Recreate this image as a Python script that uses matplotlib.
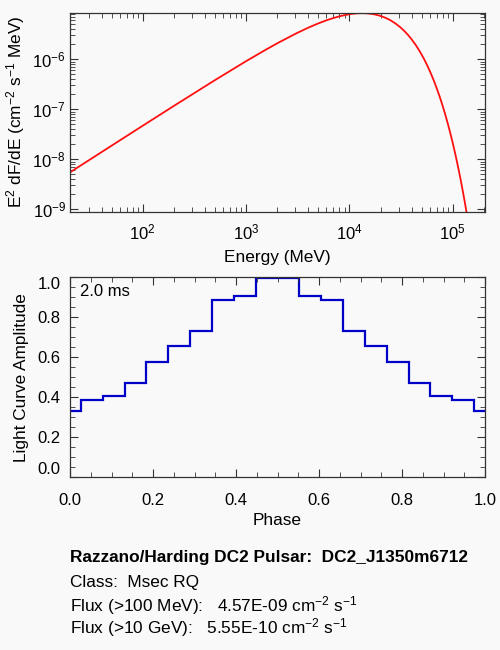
import numpy as np
import matplotlib
matplotlib.use('Agg')
import matplotlib.pyplot as plt
from matplotlib.ticker import MultipleLocator, LogLocator, NullFormatter

plt.rcParams['font.family'] = ['Liberation Sans', 'DejaVu Sans']
plt.rcParams['mathtext.fontset'] = 'custom'
plt.rcParams['mathtext.rm'] = 'Liberation Sans'
plt.rcParams['mathtext.it'] = 'Liberation Sans:italic'
plt.rcParams['mathtext.bf'] = 'Liberation Sans:bold'

# spectrum (MeV, E^2 dF/dE)
energy = [20, 50, 100, 200, 500, 1000, 1500, 2000, 3000, 4000, 5000, 6000,
          7000, 8000, 9000, 10000, 11000, 12000, 13000, 14000, 15000, 17000,
          19000, 21000, 23000, 25000, 28000, 31000, 34000, 37000, 40000, 44000,
          48000, 52000, 56000, 60000, 65000, 70000, 75000, 80000, 85000, 90000,
          95000, 100000, 105000, 110000, 115000, 120000, 125000, 130000,
          135000, 140000]
sed = [5.55e-9, 1.873e-8, 4.684e-8, 1.166e-7, 3.827e-7, 9.154e-7, 1.493e-6,
       2.082e-6, 3.231e-6, 4.285e-6, 5.218e-6, 6.018e-6, 6.683e-6, 7.221e-6,
       7.642e-6, 7.954e-6, 8.169e-6, 8.299e-6, 8.352e-6, 8.341e-6, 8.272e-6,
       8.001e-6, 7.595e-6, 7.104e-6, 6.565e-6, 6.006e-6, 5.172e-6, 4.388e-6,
       3.675e-6, 3.046e-6, 2.503e-6, 1.905e-6, 1.433e-6, 1.069e-6, 7.906e-7,
       5.810e-7, 3.919e-7, 2.623e-7, 1.744e-7, 1.153e-7, 7.578e-8, 4.959e-8,
       3.232e-8, 2.099e-8, 1.358e-8, 8.765e-9, 5.639e-9, 3.619e-9, 2.318e-9,
       1.481e-9, 9.44e-10, 6.02e-10]

# light curve bins
phase_edges = [0.0, 0.026, 0.079, 0.132, 0.184, 0.237, 0.289, 0.342, 0.395,
               0.447, 0.553, 0.605, 0.658, 0.711, 0.763, 0.816, 0.868, 0.921,
               0.974, 1.0]
amplitude = [0.332, 0.388, 0.405, 0.473, 0.575, 0.658, 0.732, 0.885, 0.908,
             0.995, 0.908, 0.885, 0.732, 0.658, 0.575, 0.473, 0.405, 0.388,
             0.332]

bg = '#f9f9f9'
fig = plt.figure(figsize=(5, 6.5), dpi=100, facecolor=bg)

def style(ax):
    ax.set_facecolor(bg)
    for s in ax.spines.values():
        s.set_color('#333333')
        s.set_linewidth(0.9)
    ax.tick_params(which='both', direction='in', top=True, right=True,
                   colors='#333333', labelcolor='black', labelsize=12)
    ax.tick_params(which='major', length=6)
    ax.tick_params(which='minor', length=3.5)

# --- spectrum
ax1 = fig.add_axes([0.14, 0.6743, 0.83, 0.3062])
style(ax1)
ax1.plot(energy, sed, color='#ff1010', lw=1.3)
ax1.set_xscale('log')
ax1.set_yscale('log')
ax1.set_xlim(19.8, 2.05e5)
ax1.set_ylim(8.95e-10, 8.55e-6)
ax1.xaxis.set_minor_locator(LogLocator(base=10, subs=np.arange(2, 10)))
ax1.yaxis.set_minor_locator(LogLocator(base=10, subs=np.arange(2, 10)))
ax1.xaxis.set_minor_formatter(NullFormatter())
ax1.yaxis.set_minor_formatter(NullFormatter())
ax1.tick_params(axis='x', pad=8)
ax1.tick_params(axis='y', pad=3)
ax1.set_xlabel('Energy (MeV)', fontsize=12.4, labelpad=5)
ax1.set_ylabel(r'E$^2$ dF/dE (cm$^{-2}$ s$^{-1}$ MeV)', fontsize=12.4, labelpad=4)

# --- light curve
ax2 = fig.add_axes([0.14, 0.2657, 0.83, 0.3077])
style(ax2)
ax2.stairs(amplitude, phase_edges, color='#0000c8', lw=1.6, baseline=None)
ax2.set_xlim(0, 1)
ax2.set_ylim(0, 1)
ax2.set_yticks([0.0, 0.2, 0.4, 0.6, 0.8, 1.0])
ax2.set_xticks([0.0, 0.2, 0.4, 0.6, 0.8, 1.0])
ax2.xaxis.set_minor_locator(MultipleLocator(0.05))
ax2.yaxis.set_minor_locator(MultipleLocator(0.05))
ax2.set_yticklabels(['0.0', '0.2', '0.4', '0.6', '0.8', '1.0'])
ax2.set_xticklabels(['0.0', '0.2', '0.4', '0.6', '0.8', '1.0'])
ylabs = ax2.get_yticklabels()
ylabs[0].set_va('bottom')
ylabs[-1].set_va('top')
ax2.tick_params(axis='x', pad=11)
ax2.tick_params(axis='y', pad=7)
ax2.set_xlabel('Phase', fontsize=12.4, labelpad=4)
ax2.set_ylabel('Light Curve Amplitude', fontsize=12.4, labelpad=6)
ax2.text(0.025, 0.965, '2.0 ms', transform=ax2.transAxes, fontsize=12,
         va='top', ha='left')

# --- info text
fig.text(0.14, 1 - 557.5 / 650, 'Razzano/Harding DC2 Pulsar:  DC2_J1350m6712',
         fontsize=12.4, fontweight='bold', va='center')
fig.text(0.14, 1 - 582 / 650, 'Class:  Msec RQ', fontsize=12.4, va='center')
fig.text(0.14, 1 - 606 / 650,
         r'Flux (>100 MeV):   4.57E-09 cm$^{-2}$ s$^{-1}$', fontsize=12.4, va='center')
fig.text(0.14, 1 - 627.5 / 650,
         r'Flux (>10 GeV):   5.55E-10 cm$^{-2}$ s$^{-1}$', fontsize=12.4, va='center')

fig.savefig('out.png', dpi=100, facecolor=bg)
